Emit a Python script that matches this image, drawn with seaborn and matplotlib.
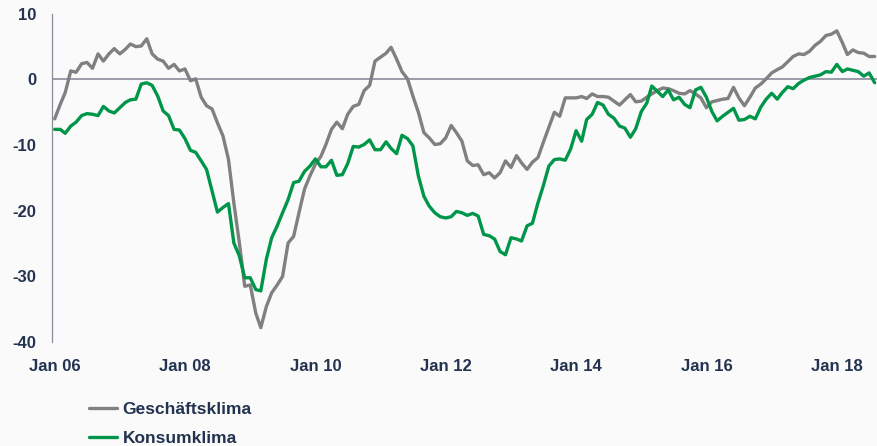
import pandas as pd
import matplotlib
matplotlib.use("Agg")
import matplotlib.pyplot as plt
import matplotlib.dates as mdates
import seaborn as sns

# monthly values, Jan 2006 .. Aug 2018
start_month = "2006-01-01"
geschaeftsklima = [
    -6.0, -3.8, -2.0, 1.3, 1.1, 2.4, 2.6, 1.7, 3.9, 2.8, 3.9, 4.7,
    3.9, 4.6, 5.4, 5.0, 5.1, 6.2, 3.9, 3.1, 2.8, 1.7, 2.3, 1.3,
    1.6, -0.2, 0.1, -2.7, -4.0, -4.5, -6.6, -8.6, -12.2, -18.8, -24.9, -31.5,
    -31.3, -35.6, -37.8, -34.6, -32.5, -31.3, -30.0, -24.9, -23.9, -20.3, -16.7, -14.7,
    -12.9, -11.7, -9.9, -7.6, -6.5, -7.5, -5.3, -4.1, -3.8, -1.7, -0.9, 2.8,
    3.4, 4.0, 4.9, 3.1, 1.2, 0.1, -2.5, -5.0, -8.1, -8.9, -9.9, -9.8,
    -8.9, -7.0, -8.1, -9.4, -12.4, -13.1, -13.0, -14.5, -14.2, -15.0, -14.2, -12.4,
    -13.4, -11.6, -12.7, -13.7, -12.6, -11.9, -9.6, -7.3, -5.0, -5.6, -2.8, -2.8,
    -2.8, -2.6, -2.9, -2.2, -2.6, -2.6, -2.7, -3.3, -3.9, -3.1, -2.3, -3.4,
    -3.3, -2.7, -2.2, -1.7, -1.3, -1.4, -1.7, -2.1, -2.2, -1.7, -2.2, -2.8,
    -4.3, -3.4, -3.2, -3.0, -2.9, -1.2, -2.8, -4.0, -2.7, -1.3, -0.7, 0.1,
    1.0, 1.5, 1.9, 2.7, 3.5, 3.9, 3.8, 4.3, 5.2, 5.8, 6.7, 6.9,
    7.4, 5.6, 3.8, 4.5, 4.1, 4.0, 3.5, 3.5,
]
konsumklima = [
    -7.6, -7.6, -8.2, -7.1, -6.5, -5.5, -5.2, -5.3, -5.5, -4.1, -4.8, -5.1,
    -4.3, -3.5, -3.1, -3.0, -0.7, -0.5, -0.9, -2.5, -4.8, -5.5, -7.6, -7.7,
    -9.0, -10.8, -11.1, -12.4, -13.7, -17.0, -20.2, -19.5, -18.9, -24.9, -26.9, -30.2,
    -30.2, -32.0, -32.2, -27.4, -24.1, -22.3, -20.3, -18.3, -15.7, -15.5, -14.0, -13.2,
    -12.1, -13.3, -13.3, -12.3, -14.6, -14.5, -12.8, -10.2, -10.3, -9.9, -9.2, -10.7,
    -10.7, -9.5, -10.5, -11.3, -8.5, -9.0, -10.1, -14.7, -17.8, -19.3, -20.3, -20.9,
    -21.1, -20.9, -20.1, -20.3, -20.7, -20.4, -20.8, -23.6, -23.8, -24.3, -26.2, -26.7,
    -24.1, -24.3, -24.6, -22.3, -21.9, -18.8, -16.2, -13.2, -12.2, -12.1, -12.3, -10.6,
    -7.8, -9.4, -6.1, -5.3, -3.5, -3.9, -5.3, -5.9, -7.1, -7.4, -8.8, -7.5,
    -4.9, -3.6, -1.0, -1.8, -2.6, -1.6, -3.1, -2.7, -3.8, -4.3, -1.6, -1.2,
    -2.7, -4.9, -6.3, -5.6, -5.0, -4.4, -6.2, -6.1, -5.6, -6.0, -4.2, -3.0,
    -2.1, -3.0, -2.0, -1.1, -1.4, -0.6, -0.1, 0.3, 0.5, 0.7, 1.2, 1.1,
    2.3, 1.2, 1.6, 1.4, 1.2, 0.5, 1.0, -0.5,
]
series_names = ["Geschäftsklima", "Konsumklima"]
tick_years = list(range(2006, 2019, 2))

dates = pd.date_range(start_month, periods=len(geschaeftsklima), freq="MS")
df = pd.concat([
    pd.DataFrame({"Datum": dates, "Wert": geschaeftsklima, "Reihe": series_names[0]}),
    pd.DataFrame({"Datum": dates, "Wert": konsumklima, "Reihe": series_names[1]}),
])

text_col = "#22324f"
bg = "#fafafa"

sns.set_theme(style="white")
plt.rcParams["font.family"] = ["Liberation Sans", "DejaVu Sans"]
plt.rcParams["axes.unicode_minus"] = False

fig = plt.figure(figsize=(8.77, 4.46), dpi=100, facecolor=bg)
ax = fig.add_axes([0.0593, 0.233, 0.9407, 0.736])
ax.set_facecolor(bg)

ax.axhline(0, color="#8a8d99", lw=1.2, zorder=1)
sns.lineplot(data=df, x="Datum", y="Wert", hue="Reihe",
             palette=["#808080", "#00964a"], linewidth=2.4, ax=ax, legend=False)

ax.set_ylim(-40, 10)
ax.set_yticks([10, 0, -10, -20, -30, -40])
ax.set_xlim(pd.Timestamp("2005-12-17"), pd.Timestamp("2018-08-14"))
ax.set_xticks([pd.Timestamp(f"{y}-01-01") for y in tick_years])
ax.xaxis.set_major_formatter(mdates.DateFormatter("Jan %y"))
ax.set_xlabel("")
ax.set_ylabel("")

for s in ["top", "right", "bottom"]:
    ax.spines[s].set_visible(False)
ax.spines["left"].set_color("#8a8d99")
ax.spines["left"].set_linewidth(0.9)

ax.tick_params(axis="both", length=0, labelsize=12, labelcolor=text_col)
ax.tick_params(axis="y", pad=11)
ax.tick_params(axis="x", pad=12)
for lab in ax.get_xticklabels() + ax.get_yticklabels():
    lab.set_fontweight("bold")

handles = ax.get_lines()[1:3]
fig.legend(handles, series_names, loc="upper left", bbox_to_anchor=(0.102, 0.098),
           frameon=False, handlelength=1.6, handletextpad=0.3,
           labelspacing=0.78, borderpad=0, borderaxespad=0,
           prop={"weight": "bold", "size": 12.5}, labelcolor=text_col)

fig.savefig("out.png", dpi=100, facecolor=bg)
